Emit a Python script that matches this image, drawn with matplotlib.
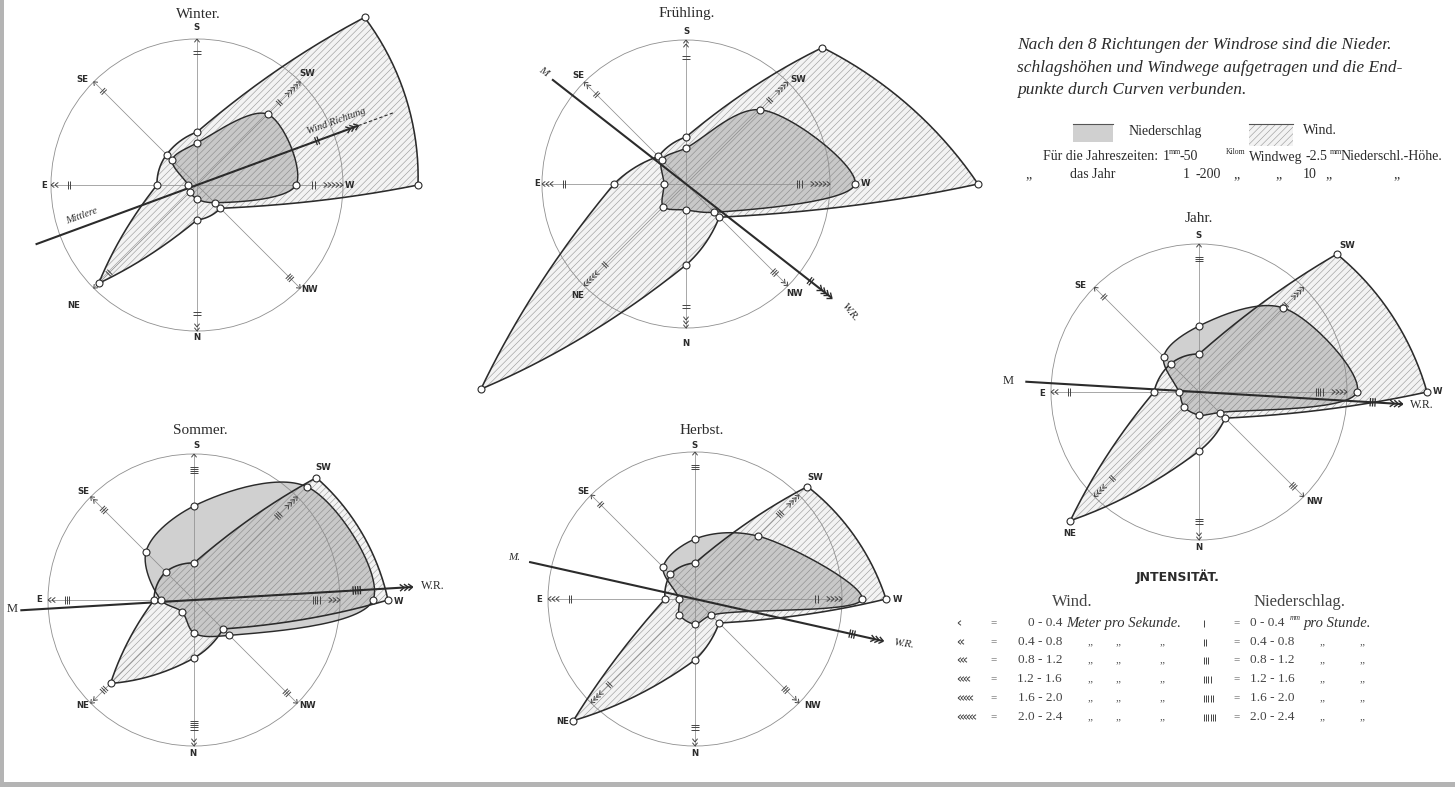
import numpy as np
import matplotlib
matplotlib.use("Agg")
import matplotlib.pyplot as plt
from matplotlib.patches import Polygon, Rectangle, Ellipse
from matplotlib.collections import LineCollection

# ---------------- data ----------------
directions = ["S", "SW", "W", "NW", "N", "NE", "E", "SE"]
direction_angles = [90, 45, 0, -45, -90, -135, 180, 135]

rose_titles = ["Winter.", "Frühling.", "Sommer.", "Herbst.", "Jahr."]

# wind path (km) and precipitation height (mm) per direction
winter_wind_km = [1060, 4740, 4420, 660, 700, 2780, 800, 860]
winter_precip_mm = [42, 100, 99, 25, 14, 10, 9, 35]
spring_wind_km = [940, 3860, 5840, 940, 1620, 5800, 1440, 780]
spring_precip_mm = [36, 105, 169, 40, 26, 32, 22, 34]
summer_wind_km = [740, 3460, 3880, 820, 1160, 2360, 800, 800]
summer_precip_mm = [94, 160, 179, 50, 33, 17, 33, 68]
autumn_wind_km = [720, 3180, 3820, 680, 1220, 3440, 600, 700]
autumn_precip_mm = [60, 89, 167, 23, 25, 22, 16, 45]
year_wind_km = [3040, 15600, 18240, 2960, 4720, 14560, 3600, 3200]
year_precip_mm = [264, 476, 632, 116, 92, 84, 80, 200]

# intensity classes (number of arrow heads / bars) per direction
winter_wind_int = [1, 5, 5, 1, 2, 3, 2, 1]
winter_precip_int = [2, 2, 2, 3, 2, 2, 2, 2]
spring_wind_int = [2, 4, 5, 2, 3, 5, 3, 2]
spring_precip_int = [2, 2, 3, 3, 2, 2, 2, 2]
summer_wind_int = [1, 4, 3, 1, 2, 2, 2, 2]
summer_precip_int = [4, 3, 4, 3, 5, 3, 3, 3]
autumn_wind_int = [1, 4, 4, 2, 2, 4, 3, 1]
autumn_precip_int = [3, 3, 2, 3, 3, 2, 2, 2]
year_wind_int = [1, 4, 4, 1, 2, 4, 2, 1]
year_precip_int = [3, 4, 4, 3, 3, 2, 2, 2]

# mean wind direction (degrees, counter-clockwise from W) and its intensity
mean_direction_deg = [20.2, -38.0, 3.4, -12.6, -3.4]
mean_wind_int = [3, 4, 3, 3, 3]
mean_precip_int = [2, 2, 4, 3, 3]

# drawing scale: 1 mm of drawing = km of wind path / mm of precipitation
km_per_mm = [50, 50, 50, 50, 200]
precip_per_mm = [2.5, 2.5, 2.5, 2.5, 10]

intensity_classes = ["0 - 0.4", "0.4 - 0.8", "0.8 - 1.2", "1.2 - 1.6", "1.6 - 2.0", "2.0 - 2.4"]

wind_sets = [winter_wind_km, spring_wind_km, summer_wind_km, autumn_wind_km, year_wind_km]
precip_sets = [winter_precip_mm, spring_precip_mm, summer_precip_mm, autumn_precip_mm, year_precip_mm]
wind_int_sets = [winter_wind_int, spring_wind_int, summer_wind_int, autumn_wind_int, year_wind_int]
precip_int_sets = [winter_precip_int, spring_precip_int, summer_precip_int, autumn_precip_int, year_precip_int]

# ---------------- layout ----------------
PX_PER_MM = 2.5
centers = [(197, 185), (686, 184), (194, 600), (695, 599), (1199, 392)]
circle_r = [146, 144, 146, 147, 148]
title_pos = [(198, 14), (687, 14), (200, 430), (702, 430), (1199, 218)]
mline_back = [172, 170, 174, 170, 174]
mline_fwd = [172, 185, 219, 193, 204]
mline_bar_r = [128, 158, 163, 161, 174]
label_offsets = [
    [(0, -157), (110, -111), (152, 0), (113, 105), (0, 152), (-123, 121), (-153, 0), (-115, -106)],
    [(0, -153), (112, -105), (179, 0), (109, 109), (0, 159), (-108, 111), (-149, 0), (-108, -108)],
    [(2, -154), (129, -132), (204, 1), (114, 106), (-1, 154), (-111, 106), (-155, 0), (-111, -108)],
    [(0, -153), (120, -122), (202, 0), (118, 107), (0, 155), (-132, 123), (-156, 1), (-112, -107)],
    [(0, -156), (148, -147), (238, 0), (116, 110), (0, 156), (-129, 141), (-157, 1), (-119, -106)],
]

INK = "#2b2b2b"
GRID = "#8f8f8f"
SERIF = ["Liberation Serif", "DejaVu Serif"]
SANS = ["DejaVu Sans"]
WIND_FACE = "#f3f3f3"
HATCH = "#959595"
PREC_FACE = "#6e6e6e"
PREC_ALPHA = 0.32

plt.rcParams["hatch.linewidth"] = 0.4

fig = plt.figure(figsize=(14.55, 7.87), dpi=100)
ax = fig.add_axes([0, 0, 1, 1])
ax.set_xlim(0, 1455)
ax.set_ylim(787, 0)
ax.set_aspect("equal")
ax.axis("off")
fig.patch.set_facecolor("white")


def polar_xy(cx, cy, r, ang):
    a = np.deg2rad(ang)
    return cx + r * np.cos(a), cy - r * np.sin(a)


def wind_curve(cx, cy, r, n=40):
    out = []
    for i in range(8):
        j = (i + 1) % 8
        a1 = direction_angles[i]
        d = (direction_angles[j] - a1 + 180) % 360 - 180
        t = np.linspace(0, 1, n, endpoint=False)
        ang = a1 + d * t
        rr = r[i] + (r[j] - r[i]) * t
        px, py = polar_xy(cx, cy, rr, ang)
        x1, y1 = polar_xy(cx, cy, r[i], a1)
        x2, y2 = polar_xy(cx, cy, r[j], direction_angles[j])
        lx, ly = x1 + (x2 - x1) * t, y1 + (y2 - y1) * t
        ratio = min(r[i], r[j]) / max(r[i], r[j])
        w = (1 - ratio) ** 0.7
        out.append(np.column_stack([(1 - w) * px + w * lx, (1 - w) * py + w * ly]))
    return np.vstack(out)


def smooth_curve(P, n=30, alpha=0.5):
    N = len(P)
    out = []
    for i in range(N):
        p0, p1, p2, p3 = P[(i - 1) % N], P[i], P[(i + 1) % N], P[(i + 2) % N]

        def tj(ti, pi, pj):
            return ti + max(np.hypot(*(pj - pi)), 1e-6) ** alpha
        t0 = 0.0
        t1 = tj(t0, p0, p1)
        t2 = tj(t1, p1, p2)
        t3 = tj(t2, p2, p3)
        t = np.linspace(t1, t2, n, endpoint=False)[:, None]
        A1 = (t1 - t) / (t1 - t0) * p0 + (t - t0) / (t1 - t0) * p1
        A2 = (t2 - t) / (t2 - t1) * p1 + (t - t1) / (t2 - t1) * p2
        A3 = (t3 - t) / (t3 - t2) * p2 + (t - t2) / (t3 - t2) * p3
        B1 = (t2 - t) / (t2 - t0) * A1 + (t - t0) / (t2 - t0) * A2
        B2 = (t3 - t) / (t3 - t1) * A2 + (t - t1) / (t3 - t1) * A3
        out.append((t2 - t) / (t2 - t1) * B1 + (t - t1) / (t2 - t1) * B2)
    return np.vstack(out)


def chevrons(x, y, ang, n, size=4.2, spacing=4.0, lw=0.8, color=INK, z=6):
    a = np.deg2rad(ang)
    ux, uy = np.cos(a), -np.sin(a)
    segs = []
    for k in range(n):
        tx, ty = x - k * spacing * ux, y - k * spacing * uy
        for s in (1, -1):
            b = a + np.pi + s * np.deg2rad(38)
            segs.append([(tx, ty), (tx + size * np.cos(b), ty - size * np.sin(b))])
    ax.add_collection(LineCollection(segs, colors=color, linewidths=lw, zorder=z))


def bars(x, y, ang, n, half=3.6, spacing=2.2, lw=0.8, color=INK, z=6):
    a = np.deg2rad(ang)
    ux, uy = np.cos(a), -np.sin(a)
    px, py = -uy, ux
    segs = []
    for o in (np.arange(n) - (n - 1) / 2) * spacing:
        cx, cy = x + o * ux, y + o * uy
        segs.append([(cx - half * px, cy - half * py), (cx + half * px, cy + half * py)])
    ax.add_collection(LineCollection(segs, colors=color, linewidths=lw, zorder=z))


for k in range(5):
    cx, cy = centers[k]
    R = circle_r[k]
    r_wind = np.array(wind_sets[k]) / km_per_mm[k] * PX_PER_MM
    r_prec = np.array(precip_sets[k]) / precip_per_mm[k] * PX_PER_MM

    # wind area
    wc = wind_curve(cx, cy, r_wind)
    ax.add_patch(Polygon(wc, closed=True, facecolor=WIND_FACE, edgecolor="none", zorder=1))
    ax.add_patch(Polygon(wc, closed=True, facecolor="none", edgecolor=HATCH,
                         linewidth=0, hatch="/////", zorder=1.1))
    # precipitation area
    pp = np.column_stack(polar_xy(cx, cy, r_prec, np.array(direction_angles)))
    pc = smooth_curve(pp)
    ax.add_patch(Polygon(pc, closed=True, facecolor=PREC_FACE, alpha=PREC_ALPHA,
                         edgecolor="none", zorder=1.2))

    # reference circle and spokes
    ax.add_patch(Ellipse((cx, cy), 2 * R, 2 * R, fill=False, edgecolor=GRID, linewidth=0.6, zorder=2))
    for ang in direction_angles:
        ex, ey = polar_xy(cx, cy, R, ang)
        ax.plot([cx, ex], [cy, ey], color=GRID, linewidth=0.55, zorder=2)

    # outlines
    ax.plot(np.append(wc[:, 0], wc[0, 0]), np.append(wc[:, 1], wc[0, 1]), color=INK, lw=1.15, zorder=4)
    ax.plot(np.append(pc[:, 0], pc[0, 0]), np.append(pc[:, 1], pc[0, 1]), color=INK, lw=1.05, zorder=4)

    # data points
    wx, wy = polar_xy(cx, cy, r_wind, np.array(direction_angles))
    ax.plot(wx, wy, "o", ms=5, mfc="white", mec=INK, mew=0.8, zorder=7)
    ax.plot(pp[:, 0], pp[:, 1], "o", ms=5, mfc="white", mec=INK, mew=0.8, zorder=7)

    # intensity marks on the spokes
    for i, ang in enumerate(direction_angles):
        nw = wind_int_sets[k][i]
        npr = precip_int_sets[k][i]
        tx, ty = polar_xy(cx, cy, R, ang)
        chevrons(tx, ty, ang, nw, lw=0.7, color="#444")
        rb = R - (nw - 1) * 4.0 - 4.5 - 8 - (npr - 1) * 1.1
        bx, by = polar_xy(cx, cy, rb, ang)
        bars(bx, by, ang, npr, lw=0.7, color="#444")
        dx, dy = label_offsets[k][i]
        ax.text(cx + dx, cy + dy, directions[i], fontsize=6.2, fontweight="bold",
                family=SANS, color=INK, ha="center", va="center", zorder=8)

    # mean wind direction line
    md = mean_direction_deg[k]
    x0, y0 = polar_xy(cx, cy, -mline_back[k], md)
    x1, y1 = polar_xy(cx, cy, mline_fwd[k], md)
    ax.plot([x0, x1], [y0, y1], color=INK, lw=1.5, zorder=5, solid_capstyle="butt")
    chevrons(x1, y1, md, mean_wind_int[k], size=5.5, spacing=4.2, lw=1.0)
    bx, by = polar_xy(cx, cy, mline_bar_r[k], md)
    bars(bx, by, md, mean_precip_int[k], half=4.2, spacing=2.4, lw=0.9)

    ax.text(title_pos[k][0], title_pos[k][1], rose_titles[k], fontsize=11, family=SERIF,
            color=INK, ha="center", va="center")

# labels of the mean direction lines
cx, cy = centers[0]
xd0, yd0 = polar_xy(cx, cy, mline_fwd[0], mean_direction_deg[0])
xd1, yd1 = polar_xy(cx, cy, 210, mean_direction_deg[0])
ax.plot([xd0, xd1], [yd0, yd1], color=INK, lw=0.8, ls=(0, (3, 2)), zorder=5)
ax.text(82, 216, "Mittlere", fontsize=7.5, family=SERIF, style="italic", rotation=20,
        ha="center", va="center", color=INK)
ax.text(336, 121, "Wind Richtung", fontsize=7.5, family=SERIF, style="italic", rotation=20,
        ha="center", va="center", color=INK)
ax.text(543, 72, "M", fontsize=8, family=SERIF, style="italic", rotation=-35,
        ha="center", va="center", color=INK)
ax.text(850, 312, "W.R.", fontsize=8, family=SERIF, style="italic", rotation=-50,
        ha="center", va="center", color=INK)
ax.text(12, 609, "M", fontsize=9, family=SERIF, ha="center", va="center", color=INK)
ax.text(421, 586, "W.R.", fontsize=8.5, family=SERIF, ha="left", va="center", color=INK)
ax.text(514, 557, "M.", fontsize=8, family=SERIF, style="italic", ha="center", va="center", color=INK)
ax.text(893, 644, "W.R.", fontsize=8, family=SERIF, style="italic", rotation=-8,
        ha="left", va="center", color=INK)
ax.text(1008, 381, "M", fontsize=9, family=SERIF, ha="center", va="center", color=INK)
ax.text(1410, 405, "W.R.", fontsize=8.5, family=SERIF, ha="left", va="center", color=INK)

# ---------------- explanatory text ----------------
script_lines = ["Nach den 8 Richtungen der Windrose sind die Nieder.",
                "schlagshöhen und Windwege aufgetragen und die End-",
                "punkte durch Curven verbunden."]
for i, line in enumerate(script_lines):
    ax.text(1017, 45 + i * 22.5, line, fontsize=12.5, family=SERIF, style="italic",
            color=INK, ha="left", va="center")

# legend patches
ax.add_patch(Rectangle((1073, 124), 40, 18, facecolor=PREC_FACE, alpha=PREC_ALPHA, edgecolor="none"))
ax.plot([1073, 1113], [124, 124], color="#555", lw=0.8)
ax.text(1129, 131, "Niederschlag", fontsize=10, family=SERIF, color=INK, ha="left", va="center")
ax.add_patch(Rectangle((1249, 124), 44, 22, facecolor=WIND_FACE, edgecolor="none"))
ax.add_patch(Rectangle((1249, 124), 44, 22, facecolor="none", edgecolor=HATCH,
                       linewidth=0, hatch="/////"))
ax.plot([1249, 1293], [124, 124], color="#555", lw=0.8)
ax.text(1303, 131, "Wind.", fontsize=10, family=SERIF, color=INK, ha="left", va="center")

row1 = [(1043, "Für die Jahreszeiten:", 10), (1163, "1", 10), (1169, "mm", 5.5), (1180, "-50", 10),
        (1226, "Kilom", 5.5), (1249, "Windweg", 10), (1305, "-2.5", 10), (1330, "mm", 5.5),
        (1341, "Niederschl.-Höhe.", 10)]
for x, s, fs in row1:
    ax.text(x, 157 - (5 if fs < 8 else 0), s, fontsize=fs, family=SERIF, color=INK,
            ha="left", va="center")
row2 = [(1025, "„", 10), (1070, "das Jahr", 10), (1183, "1", 10), (1195, "-200", 10),
        (1233, "„", 10), (1275, "„", 10), (1303, "10", 10), (1325, "„", 10), (1393, "„", 10)]
for x, s, fs in row2:
    ax.text(x, 175, s, fontsize=fs, family=SERIF, color=INK, ha="left", va="center")

# ---------------- intensity table ----------------
ax.text(1178, 577, "JNTENSITÄT.", fontsize=9, fontweight="bold", family=SANS, color=INK,
        ha="center", va="center")
ax.text(1072, 602, "Wind.", fontsize=12, family=SERIF, color="#444", ha="center", va="center")
ax.text(1300, 602, "Niederschlag.", fontsize=12, family=SERIF, color="#444", ha="center", va="center")
row_y = [623, 642, 660, 679, 698, 717]
for i, y in enumerate(row_y):
    chevrons(958, y, 180, i + 1, size=3.8, spacing=3.0, lw=0.7, color="#444")
    ax.text(990, y, "=", fontsize=8, family=SERIF, color="#555", ha="left", va="center")
    ax.text(1062, y, intensity_classes[i], fontsize=9.5, family=SERIF, color="#444",
            ha="right", va="center")
    bars(1204 + i * 1.1, y, 0, i + 1, half=3.5, spacing=2.2, lw=0.7, color="#444")
    ax.text(1233, y, "=", fontsize=8, family=SERIF, color="#555", ha="left", va="center")
    ax.text(1250, y, intensity_classes[i], fontsize=9.5, family=SERIF, color="#444",
            ha="left", va="center")
    if i == 0:
        ax.text(1066, y, "Meter pro Sekunde.", fontsize=10.5, family=SERIF, style="italic",
                color="#333", ha="left", va="center")
        ax.text(1290, y - 5, "mm", fontsize=5.5, family=SERIF, style="italic", color="#333",
                ha="left", va="center")
        ax.text(1304, y, "pro Stunde.", fontsize=10.5, family=SERIF, style="italic",
                color="#333", ha="left", va="center")
    else:
        for x in (1090, 1118, 1162, 1322, 1362):
            ax.text(x, y, "„", fontsize=8, family=SERIF, color="#555", ha="center", va="center")

# scan borders
ax.add_patch(Rectangle((0, 0), 4, 787, facecolor="#b4b4b4", edgecolor="none", zorder=0))
ax.add_patch(Rectangle((0, 782), 1455, 5, facecolor="#b4b4b4", edgecolor="none", zorder=0))

fig.savefig("out.png", dpi=100, facecolor="white")
